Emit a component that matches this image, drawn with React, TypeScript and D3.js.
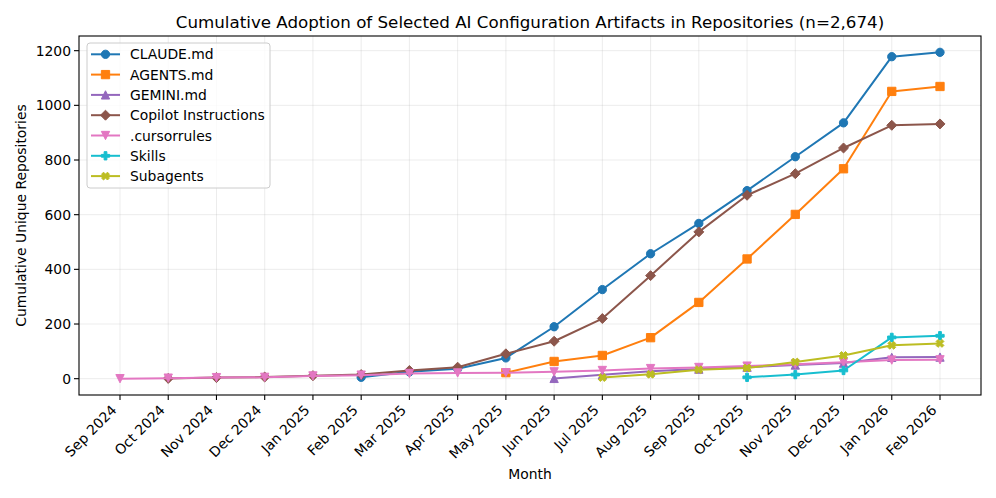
import React from 'react';
import * as d3 from 'd3';

const months = [
  'Sep 2024', 'Oct 2024', 'Nov 2024', 'Dec 2024', 'Jan 2025', 'Feb 2025',
  'Mar 2025', 'Apr 2025', 'May 2025', 'Jun 2025', 'Jul 2025', 'Aug 2025',
  'Sep 2025', 'Oct 2025', 'Nov 2025', 'Dec 2025', 'Jan 2026', 'Feb 2026',
];

const claude = [null, null, null, null, null, 5, 25, 36, 76, 190, 326, 457, 568, 688, 812, 936, 1178, 1194];
const agents = [null, null, null, null, null, null, null, null, 22, 63, 85, 150, 279, 438, 601, 768, 1051, 1069];
const gemini = [null, null, null, null, null, null, null, null, null, 1, 14, 27, 35, 42, 50, 57, 78, 79];
const copilot = [null, 1, 4, 6, 11, 15, 30, 42, 91, 137, 220, 377, 537, 671, 750, 844, 927, 932];
const cursorrules = [0, 2, 4, 5, 10, 13, 19, 21, 22, 25, 30, 37, 41, 46, 53, 60, 68, 69];
const skills = [null, null, null, null, null, null, null, null, null, null, null, null, null, 5, 15, 30, 151, 157];
const subagents = [null, null, null, null, null, null, null, null, null, null, 4, 16, 33, 39, 61, 85, 122, 129];

const yTicks = [0, 200, 400, 600, 800, 1000, 1200];

const series = [
  { name: 'CLAUDE.md', values: claude, color: '#1f77b4', marker: 'o' },
  { name: 'AGENTS.md', values: agents, color: '#ff7f0e', marker: 's' },
  { name: 'GEMINI.md', values: gemini, color: '#9467bd', marker: '^' },
  { name: 'Copilot Instructions', values: copilot, color: '#8c564b', marker: 'D' },
  { name: '.cursorrules', values: cursorrules, color: '#e377c2', marker: 'v' },
  { name: 'Skills', values: skills, color: '#17becf', marker: 'P' },
  { name: 'Subagents', values: subagents, color: '#bcbd22', marker: 'X' },
];

const W = 996, H = 498;
const m = { left: 79, right: 981, top: 36, bottom: 395 };
const font = 'DejaVu Sans, sans-serif';

// matplotlib-like marker paths, s = markersize in px
function markerPath(kind: string, s = 8.3) {
  const h = s / 2;
  switch (kind) {
    case 'o':
      return d3.symbol(d3.symbolCircle, Math.PI * h * h)() as string;
    case 's':
      return `M${-h},${-h}H${h}V${h}H${-h}Z`;
    case '^':
      return `M0,${-h}L${h},${h}L${-h},${h}Z`;
    case 'v':
      return `M0,${h}L${h},${-h}L${-h},${-h}Z`;
    case 'D': {
      const r = h * 1.414 * 0.85;
      return `M0,${-r}L${r},0L0,${r}L${-r},0Z`;
    }
    case 'P': {
      const a = s / 6;
      return `M${-a},${-h}H${a}V${-a}H${h}V${a}H${a}V${h}H${-a}V${a}H${-h}V${-a}H${-a}Z`;
    }
    case 'X': {
      const a = s / 6, k = h;
      const pts: [number, number][] = [
        [-a, -k], [a, -k], [a, -a], [k, -a], [k, a], [a, a], [a, k], [-a, k], [-a, a], [-k, a], [-k, -a], [-a, -a],
      ];
      const c = Math.SQRT1_2;
      return 'M' + pts.map(([x, y]) => `${(x - y) * c},${(x + y) * c}`).join('L') + 'Z';
    }
  }
  return '';
}

export default function App() {
  const x = d3.scaleLinear().domain([-0.85, 17.85]).range([m.left, m.right]);
  const y = d3.scaleLinear().domain([-59.7, 1253.7]).range([m.bottom, m.top]);

  const line = d3
    .line<number | null>()
    .defined((d) => d !== null)
    .x((_, i) => x(i))
    .y((d) => y(d as number));

  const legend = { x: 87, y: 43, w: 183, h: 145, row: 20.3 };

  return (
    <svg width={W} height={H} style={{ position: 'absolute', left: 0, top: 0, background: '#fff' }} fontFamily={font}>
      <rect width={W} height={H} fill="#fff" />
      {/* grid */}
      <g stroke="#b0b0b0" strokeOpacity={0.3} strokeWidth={0.8}>
        {months.map((_, i) => (
          <line key={'gx' + i} x1={x(i)} x2={x(i)} y1={m.top} y2={m.bottom} />
        ))}
        {yTicks.map((t) => (
          <line key={'gy' + t} x1={m.left} x2={m.right} y1={y(t)} y2={y(t)} />
        ))}
      </g>

      {/* series */}
      {series.map((s) => (
        <g key={s.name}>
          <path d={line(s.values) || ''} fill="none" stroke={s.color} strokeWidth={2} strokeLinejoin="round" />
          {s.values.map((v, i) =>
            v === null ? null : (
              <path key={i} d={markerPath(s.marker)} transform={`translate(${x(i)},${y(v)})`} fill={s.color} stroke={s.color} strokeWidth={1} />
            )
          )}
        </g>
      ))}

      {/* frame */}
      <rect x={m.left} y={m.top} width={m.right - m.left} height={m.bottom - m.top} fill="none" stroke="#000" strokeWidth={1.1} />

      {/* x axis */}
      {months.map((mo, i) => (
        <g key={mo}>
          <line x1={x(i)} x2={x(i)} y1={m.bottom} y2={m.bottom + 5} stroke="#000" strokeWidth={1.1} />
          <text
            transform={`translate(${x(i) - 2.5},${m.bottom + 16}) rotate(-45)`}
            textAnchor="end"
            fontSize={13.9}
            fill="#000"
          >
            {mo}
          </text>
        </g>
      ))}

      {/* y axis */}
      {yTicks.map((t) => (
        <g key={t}>
          <line x1={m.left - 5} x2={m.left} y1={y(t)} y2={y(t)} stroke="#000" strokeWidth={1.1} />
          <text x={m.left - 8} y={y(t)} dy="0.36em" textAnchor="end" fontSize={13.9} fill="#000">
            {t}
          </text>
        </g>
      ))}

      <text x={(m.left + m.right) / 2} y={479} textAnchor="middle" fontSize={13.9} fill="#000">
        Month
      </text>
      <text transform={`translate(26,${(m.top + m.bottom) / 2}) rotate(-90)`} textAnchor="middle" fontSize={13.9} fill="#000">
        Cumulative Unique Repositories
      </text>
      <text x={(m.left + m.right) / 2} y={28} textAnchor="middle" fontSize={16.7} fill="#000">
        Cumulative Adoption of Selected AI Configuration Artifacts in Repositories (n=2,674)
      </text>

      {/* legend */}
      <g>
        <rect x={legend.x} y={legend.y} width={legend.w} height={legend.h} rx={3} fill="#fff" fillOpacity={0.8} stroke="#cccccc" strokeWidth={1} />
        {series.map((s, i) => {
          const cy = legend.y + 11.3 + i * legend.row;
          return (
            <g key={s.name}>
              <line x1={91} x2={120} y1={cy} y2={cy} stroke={s.color} strokeWidth={2} />
              <path d={markerPath(s.marker)} transform={`translate(105.5,${cy})`} fill={s.color} stroke={s.color} strokeWidth={1} />
              <text x={130} y={cy} dy="0.36em" fontSize={13.9} fill="#000">
                {s.name}
              </text>
            </g>
          );
        })}
      </g>
    </svg>
  );
}
